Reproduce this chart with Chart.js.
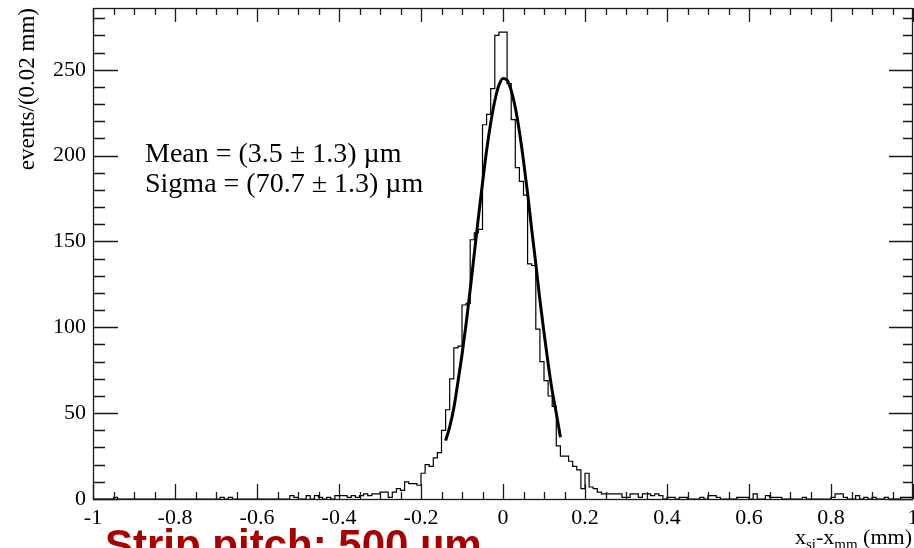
<!DOCTYPE html>
<html>
<head>
<meta charset="utf-8">
<script src="https://cdn.jsdelivr.net/npm/chart.js@4.4.0/dist/chart.umd.min.js"></script>
<style>
  html, body { margin: 0; padding: 0; background: #fff; }
  canvas { display: block; }
</style>
</head>
<body>
<canvas id="chart-resol" width="914" height="548"></canvas>
<script>
// residuos x_si - x_mm: histograma con bins de 0.01 mm entre -1 y 1
const binLow = -1;
const binWidth = 0.01;
const counts = [
  0, 0, 0, 0, 0, 0, 1, 0, 0, 0,
  0, 0, 0, 0, 0, 0, 0, 0, 0, 0,
  0, 0, 0, 0, 0, 0, 0, 0, 0, 0,
  0, 0, 1, 0, 1, 0, 0, 0, 0, 0,
  0, 0, 0, 0, 0, 0, 0, 0, 0, 2,
  1, 0, 0, 2, 0, 2, 1, 0, 1, 0,
  2, 2, 2, 1, 2, 1, 2, 3, 2, 3,
  3, 4, 4, 1, 4, 6, 5, 10, 9, 9,
  8, 15, 20, 19, 24, 27, 40, 52, 70, 88,
  89, 113, 114, 151, 155, 157, 218, 224, 239, 270,
  272, 272, 242, 221, 193, 185, 177, 137, 136, 99,
  80, 69, 60, 54, 31, 25, 25, 22, 19, 17,
  6, 15, 7, 6, 4, 3, 3, 3, 3, 3,
  1, 1, 3, 3, 1, 3, 3, 2, 3, 2,
  0, 1, 1, 0, 1, 1, 0, 0, 0, 1,
  0, 2, 2, 1, 0, 0, 0, 0, 1, 1,
  1, 0, 3, 0, 0, 2, 1, 1, 1, 0,
  0, 0, 0, 0, 1, 0, 0, 0, 0, 0,
  0, 1, 3, 3, 1, 0, 0, 2, 0, 1,
  0, 1, 0, 0, 1, 0, 0, 0, 1, 1
];

// curva del ajuste gaussiano
const fitX = [-0.14, -0.13, -0.12, -0.11, -0.10, -0.09, -0.08, -0.07, -0.06, -0.05,
  -0.04, -0.03, -0.02, -0.01, 0, 0.01, 0.02, 0.03, 0.04, 0.05,
  0.06, 0.07, 0.08, 0.09, 0.10, 0.11, 0.12, 0.13, 0.14];
const fitY = [34, 42, 53, 68, 84, 102, 122, 143, 164, 184,
  203, 219, 232, 241, 245, 244, 238, 228, 214, 197,
  178, 157, 137, 116, 97, 79, 63, 50, 36];

const xTicks = [-1, -0.8, -0.6, -0.4, -0.2, 0, 0.2, 0.4, 0.6, 0.8, 1];
const yTicks = [0, 50, 100, 150, 200, 250];
const yMax = 286;

const fitText = ['Mean = (3.5 \u00b1 1.3) \u00b5m', 'Sigma = (70.7 \u00b1 1.3) \u00b5m'];

const histPts = counts.map((c, i) => ({ x: binLow + i * binWidth, y: c }));
histPts.push({ x: binLow + counts.length * binWidth, y: counts[counts.length - 1] });
const fitPts = fitX.map((x, i) => ({ x, y: fitY[i] }));

const SERIF = "'Liberation Serif', 'DejaVu Serif', serif";

// marco estilo ROOT: ticks hacia adentro en los cuatro lados + textos
const rootFrame = {
  id: 'rootFrame',
  afterDraw(chart) {
    const { ctx, chartArea: a, scales: { x, y } } = chart;
    ctx.save();
    ctx.strokeStyle = '#1a1a1a';
    ctx.lineWidth = 1.3;
    ctx.strokeRect(a.left + 0.5, a.top + 0.5, a.right - a.left - 1, a.bottom - a.top);

    ctx.beginPath();
    for (let i = 0; i <= 40; i++) {
      const px = Math.round(x.getPixelForValue(-1 + i * 0.05)) + 0.5;
      const len = i % 4 === 0 ? 15 : 7;
      const lenTop = i % 4 === 0 ? 14 : 7;
      ctx.moveTo(px, a.bottom); ctx.lineTo(px, a.bottom - len);
      ctx.moveTo(px, a.top); ctx.lineTo(px, a.top + lenTop);
    }
    for (let i = 0; i <= 28; i++) {
      const py = Math.round(y.getPixelForValue(i * 10)) + 0.5;
      const len = i % 5 === 0 ? 25 : 12;
      const lenR = i % 5 === 0 ? 24 : 10;
      ctx.moveTo(a.left, py); ctx.lineTo(a.left + len, py);
      ctx.moveTo(a.right, py); ctx.lineTo(a.right - lenR, py);
    }
    ctx.stroke();

    // resultado del ajuste
    ctx.fillStyle = '#000';
    ctx.font = '28px ' + SERIF;
    ctx.textBaseline = 'alphabetic';
    ctx.textAlign = 'left';
    ctx.fillText(fitText[0], 145, 162);
    ctx.fillText(fitText[1], 145, 192);

    // titulo eje x con subindices
    const parts = [['x', 0], ['si', 1], ['-x', 0], ['mm', 1], [' (mm)', 0]];
    const fontOf = s => (s ? '15px ' : '22px ') + SERIF;
    let total = 0;
    parts.forEach(([t, s]) => { ctx.font = fontOf(s); total += ctx.measureText(t).width; });
    let cx = 912 - total;
    parts.forEach(([t, s]) => {
      ctx.font = fontOf(s);
      ctx.fillText(t, cx, s ? 549 : 544);
      cx += ctx.measureText(t).width;
    });

    // texto de la diapositiva (cortado abajo)
    ctx.fillStyle = '#a80000';
    ctx.font = "bold 42px 'Liberation Sans', Arial, sans-serif";
    ctx.fillText('Strip pitch: 500 \u00b5m', 105, 559);
    ctx.restore();
  }
};

const fmt = v => String(Math.round(v * 10) / 10);

new Chart(document.getElementById('chart-resol'), {
  type: 'line',
  data: {
    datasets: [
      {
        label: 'ajuste',
        data: fitPts,
        borderColor: '#000',
        borderWidth: 3,
        pointRadius: 0,
        cubicInterpolationMode: 'monotone',
        fill: false
      },
      {
        label: 'eventos',
        data: histPts,
        borderColor: '#000',
        borderWidth: 1.2,
        pointRadius: 0,
        stepped: 'after',
        fill: false
      }
    ]
  },
  options: {
    responsive: false,
    animation: false,
    devicePixelRatio: 1,
    layout: { padding: { top: 8, right: 1, left: 0, bottom: 0 }, autoPadding: false },
    plugins: { legend: { display: false }, tooltip: { enabled: false } },
    scales: {
      x: {
        type: 'linear',
        min: -1,
        max: 1,
        grid: { display: false, drawTicks: false },
        border: { display: false },
        afterBuildTicks: s => { s.ticks = xTicks.map(v => ({ value: v })); },
        afterFit: s => { s.height = 49; s.paddingLeft = 0; s.paddingRight = 0; },
        ticks: {
          autoSkip: false, maxRotation: 0, padding: 6, color: '#000',
          font: { family: SERIF, size: 22 },
          callback: v => fmt(v)
        }
      },
      y: {
        type: 'linear',
        min: 0,
        max: yMax,
        grid: { display: false, drawTicks: false },
        border: { display: false },
        afterBuildTicks: s => { s.ticks = yTicks.map(v => ({ value: v })); },
        afterFit: s => { s.width = 93; s.paddingTop = 0; s.paddingBottom = 0; },
        ticks: {
          autoSkip: false, padding: 7, color: '#000',
          font: { family: SERIF, size: 22 },
          callback: v => fmt(v)
        },
        title: {
          display: true,
          text: 'events/(0.02 mm)',
          align: 'end',
          color: '#000',
          font: { family: SERIF, size: 23 },
          padding: { top: 14, bottom: 0 }
        }
      }
    }
  },
  plugins: [rootFrame]
});
</script>
</body>
</html>
